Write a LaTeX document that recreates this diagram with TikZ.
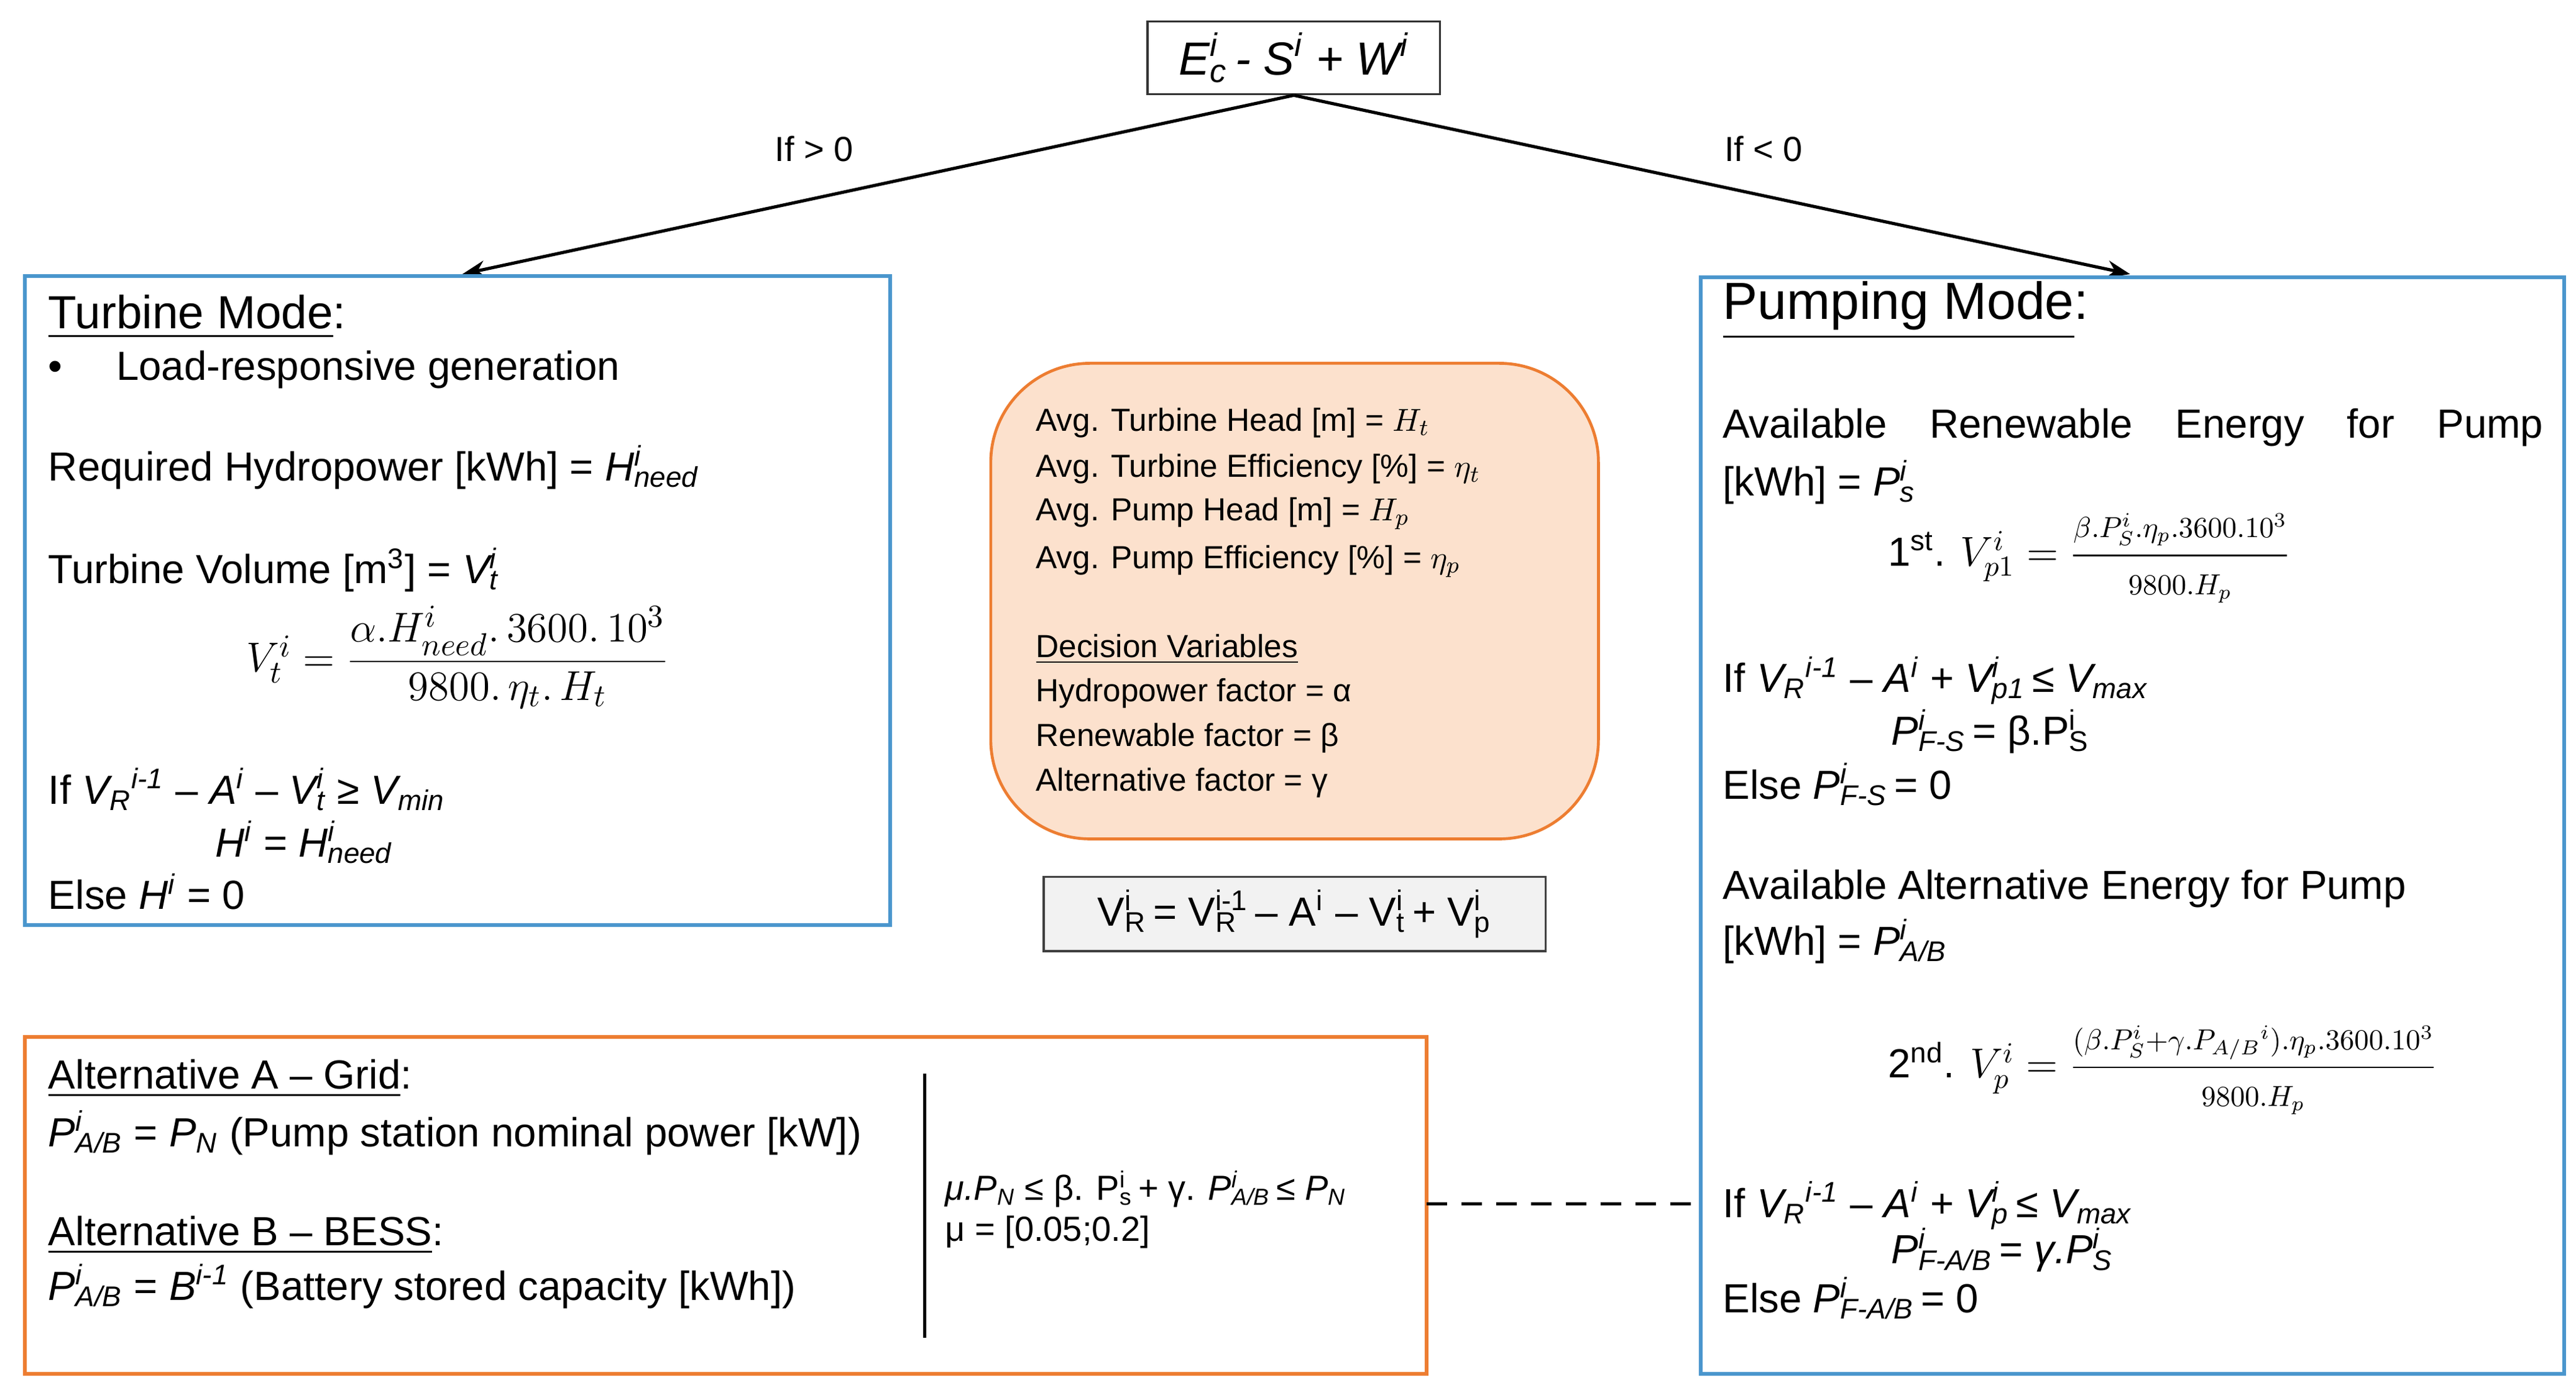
\documentclass[tikz,border=0pt]{standalone}
\usepackage{fontspec}
\setmainfont{Liberation Sans}
\usepackage{amsmath}
\usetikzlibrary{arrows.meta}
\definecolor{bblue}{RGB}{74,150,205}
\definecolor{oorange}{RGB}{237,125,49}
\definecolor{peach}{RGB}{252,225,205}
\definecolor{lgray}{RGB}{242,242,242}
\newcommand\ssp[2]{\setbox0=\hbox{\textsubscript{#1}}\setbox2=\hbox{\textsuperscript{#2}}\ifdim\wd0>\wd2 \rlap{\box2}\box0\else\rlap{\box0}\box2\fi}
\newcommand\fs[1]{\fontsize{#1}{#1}\selectfont}
\begin{document}
\begin{tikzpicture}[x=0.02cm,y=-0.02cm,
  txt/.style={anchor=west,inner sep=0pt,font=\fs{14}},
  sm/.style={anchor=west,inner sep=0pt,font=\fs{11}},
  bbox/.style={draw=bblue,line width=1.3pt},
  obox/.style={draw=oorange,line width=1.3pt},
  arr/.style={-{Stealth[length=8pt,width=6pt]},line width=1.1pt}]
\useasboundingbox (0,0) rectangle (1560,844.4);
% top node
\node[draw=black!80,line width=0.8pt,minimum width=177*0.02cm,minimum height=44*0.02cm,inner sep=0pt,font=\fs{16}] (top) at (783.5,35) {\textit{E\ssp{c}{i}\,- S\textsuperscript{i} + W\textsuperscript{i}}};
\coordinate (tl) at (280,166);
\coordinate (tr) at (1290,166);
\draw[arr] (top.south) -- (tl);
\draw[arr] (top.south) -- (tr);
\node[font=\fs{12}] (l1) at (493,90) {If > 0};
\node[font=\fs{12}] (l2) at (1068,90) {If < 0};
% turbine box
\draw[bbox] (15,167) rectangle (539,560);
\node[txt,font=\fs{16}] (t1) at (29,192) {\underline{Turbine Mode}:};
\node[txt] (t2) at (29,224) {•\hspace{0.65cm}Load-responsive generation};
\node[txt] (t3) at (29,283) {Required Hydropower [kWh] = \textit{H\ssp{need}{i}}};
\node[txt] (t4) at (29,345) {Turbine Volume [m\textsuperscript{3}] = \textit{V\ssp{t}{i}}};
\node[font=\fs{15}] (t5) at (277,398) {$V_t^i=\dfrac{\alpha.H_{need}^i.\,3600.\,10^3}{9800.\,\eta_t.\,H_t}$};
\node[txt] (t6) at (29,478) {If \textit{V\textsubscript{R}\textsuperscript{i-1}} -- \textit{A\textsuperscript{i}} -- \textit{V\ssp{t}{i}} ≥ \textit{V\textsubscript{min}}};
\node[txt] (t7) at (130,510) {\textit{H\textsuperscript{i}} = \textit{H\ssp{need}{i}}};
\node[txt] (t8) at (29,540) {Else \textit{H\textsuperscript{i}} = 0};
% orange rounded
\draw[draw=oorange,line width=1pt,fill=peach,rounded corners=1.2cm] (600,220) rectangle (968,508);
\node[sm] (o1) at (627,256) {Avg. Turbine Head [m] = $H_t$};
\node[sm] (o2) at (627,284) {Avg. Turbine Efficiency [\%] = $\eta_t$};
\node[sm] (o3) at (627,311) {Avg. Pump Head [m] = $H_p$};
\node[sm] (o4) at (627,340) {Avg. Pump Efficiency [\%] = $\eta_p$};
\node[sm] (o5) at (627,393) {\underline{Decision Variables}};
\node[sm] (o6) at (627,420) {Hydropower factor = α};
\node[sm] (o7) at (627,447) {Renewable factor = β};
\node[sm] (o8) at (627,474) {Alternative factor = γ};
% VR box
\node[draw=black!75,line width=0.8pt,fill=lgray,minimum width=304*0.02cm,minimum height=45*0.02cm,inner sep=0pt,font=\fs{14}] (vr) at (784,553.5) {V\ssp{R}{i}\,= V\ssp{R}{i-1}\,-- A\textsuperscript{i} -- V\ssp{t}{i}\,+ V\ssp{p}{i}};
% alternative box
\draw[obox] (15,628) rectangle (864,832);
\node[txt] (a1) at (29,653) {\underline{Alternative A -- Grid}:};
\node[txt] (a2) at (29,686) {\textit{P\ssp{A/B}{i}} = \textit{P\textsubscript{N}} (Pump station nominal power [kW])};
\node[txt] (a3) at (29,748) {\underline{Alternative B -- BESS}:};
\node[txt] (a4) at (29,779) {\textit{P\ssp{A/B}{i}} = \textit{B\textsuperscript{i-1}} (Battery stored capacity [kWh])};
\coordinate (va) at (560,650);
\coordinate (vb) at (560,810);
\draw[line width=1pt] (va) -- (vb);
\node[sm,font=\fs{12}] (a5) at (572,720) {\textit{μ.P\textsubscript{N}} ≤ β. P\ssp{s}{i}\,+ γ. \textit{P\ssp{A/B}{i}}\,≤ \textit{P\textsubscript{N}}};
\node[sm,font=\fs{12}] (a6) at (572,746) {μ = [0.05;0.2]};
% pumping box
\draw[bbox] (1030,168) rectangle (1553,832);
\coordinate (d1) at (864,729);
\coordinate (d2) at (1030,729);
\draw[dashed,line width=1pt,dash pattern=on 7pt off 5pt] (d1) -- (d2);
\node[txt,font=\fs{18}] (p1) at (1043,188) {\underline{Pumping Mode}:};
\node[txt] (p2) at (1043,259) {\makebox[9.94cm][s]{Available Renewable Energy for Pump}};
\node[txt] (p3) at (1043,292) {[kWh] = \textit{P\ssp{s}{i}}};
\node[txt] (p4) at (1143,338) {1\textsuperscript{st}. $V_{p1}^i=\dfrac{\scriptstyle\beta.P_S^i.\eta_p.3600.10^3}{\scriptstyle 9800.H_p}$};
\node[txt] (p5) at (1043,412) {If \textit{V\textsubscript{R}\textsuperscript{i-1}} -- \textit{A\textsuperscript{i}} + \textit{V\ssp{p1}{i}}\,≤ \textit{V\textsubscript{max}}};
\node[txt] (p6) at (1145,443) {\textit{P\ssp{F-S}{i}}\,= β.P\ssp{S}{i}};
\node[txt] (p7) at (1043,475) {Else \textit{P\ssp{F-S}{i}}\,= 0};
\node[txt] (p8) at (1043,538) {Available Alternative Energy for Pump};
\node[txt] (p9) at (1043,570) {[kWh] = \textit{P\ssp{A/B}{i}}};
\node[txt] (p10) at (1143,648) {2\textsuperscript{nd}. $V_{p}^i=\dfrac{\scriptstyle(\beta.P_S^i+\gamma.P_{A/B}{}^i).\eta_p.3600.10^3}{\scriptstyle 9800.H_p}$};
\node[txt] (p11) at (1043,730) {If \textit{V\textsubscript{R}\textsuperscript{i-1}} -- \textit{A\textsuperscript{i}} + \textit{V\ssp{p}{i}}\,≤ \textit{V\textsubscript{max}}};
\node[txt] (p12) at (1145,757) {\textit{P\ssp{F-A/B}{i}}\,= \textit{γ.P\ssp{S}{i}}};
\node[txt] (p13) at (1043,786) {Else \textit{P\ssp{F-A/B}{i}}\,= 0};
\end{tikzpicture}
\end{document}
